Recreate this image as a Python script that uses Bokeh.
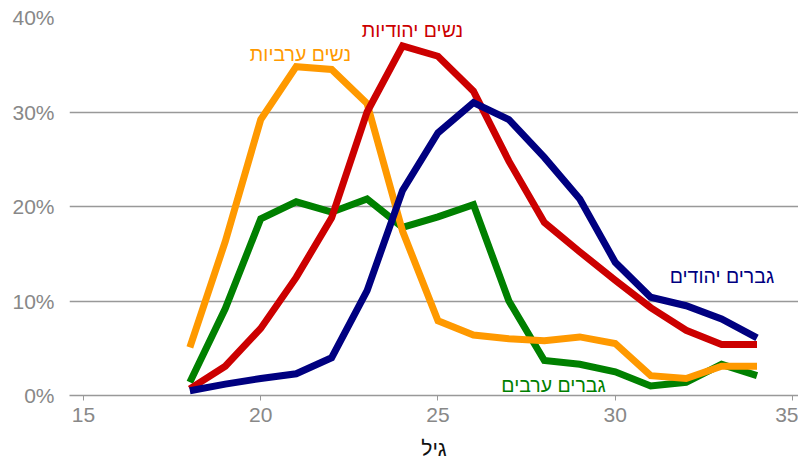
from bokeh.plotting import figure
from bokeh.models import Range1d, Label, FixedTicker, CustomJSTickFormatter
from bokeh.embed import file_html
from bokeh.resources import INLINE

ages = list(range(18, 35))
jewish_men = [0.5, 1.2, 1.8, 2.3, 4.0, 11.1, 21.7, 27.8, 31.0, 29.2, 25.2, 20.8, 14.1, 10.4, 9.5, 8.1, 6.1]
jewish_women = [0.7, 3.1, 7.1, 12.5, 18.8, 30.0, 37.0, 35.9, 32.2, 24.8, 18.3, 15.2, 12.2, 9.3, 6.9, 5.4, 5.4]
arab_women = [5.1, 16.3, 29.2, 34.8, 34.5, 30.9, 17.4, 7.9, 6.4, 6.0, 5.8, 6.2, 5.5, 2.1, 1.8, 3.1, 3.1]
arab_men = [1.4, 9.2, 18.7, 20.5, 19.4, 20.8, 17.8, 18.9, 20.2, 10.0, 3.7, 3.3, 2.5, 1.0, 1.4, 3.3, 2.1]

series_names = ["גברים יהודים", "נשים יהודיות", "נשים ערביות", "גברים ערבים"]
x_ticks = [15, 20, 25, 30, 35]
y_ticks = [0, 10, 20, 30, 40]
x_title = "גיל"

colors = ["#000080", "#cc0000", "#ff9900", "#008000"]
FONT = "Liberation Sans"

p = figure(width=798, height=462, output_backend="svg", toolbar_location=None,
           x_range=Range1d(14.605, 35.17), y_range=Range1d(0, 40),
           min_border_left=69, min_border_right=0, min_border_top=17, min_border_bottom=67)
p.outline_line_color = None
p.background_fill_color = "white"

order = [(arab_men, colors[3]), (arab_women, colors[2]), (jewish_women, colors[1]), (jewish_men, colors[0])]
for ys, c in order:
    p.line(ages, ys, line_color=c, line_width=7, line_join="miter")

p.xaxis.ticker = FixedTicker(ticks=x_ticks)
p.yaxis.ticker = FixedTicker(ticks=y_ticks)
p.yaxis.formatter = CustomJSTickFormatter(code="return tick + '%';")

for ax in [p.xaxis[0], p.yaxis[0]]:
    ax.major_label_text_font = FONT
    ax.major_label_text_font_size = "21px"
    ax.major_label_text_color = "#888888"
    ax.minor_tick_line_color = None
    ax.major_tick_in = 0

p.yaxis.axis_line_color = None
p.yaxis.major_tick_line_color = None
p.yaxis.major_tick_out = 0
p.yaxis.major_label_standoff = 15

p.xaxis.axis_line_color = "#999999"
p.xaxis.axis_line_width = 1.3
p.xaxis.major_tick_line_color = "#999999"
p.xaxis.major_tick_out = 5
p.xaxis.major_label_standoff = 7
p.xaxis.axis_label = x_title
p.xaxis.axis_label_text_font = FONT
p.xaxis.axis_label_text_font_size = "21px"
p.xaxis.axis_label_text_font_style = "normal"
p.xaxis.axis_label_text_color = "#111111"
p.xaxis.axis_label_standoff = 12

p.xgrid.grid_line_color = None
p.ygrid.grid_line_color = "#999999"
p.ygrid.grid_line_width = 1.3

label_pos = [(33.01, 12.6), (24.28, 38.7), (21.12, 36.1), (28.26, 1.1)]
for name, c, (lx, ly) in zip(series_names, colors, label_pos):
    p.add_layout(Label(x=lx, y=ly, text=name, text_color=c, text_font=FONT,
                       text_font_size="19.5px", text_align="center", text_baseline="middle"))

open("out.html", "w").write(file_html(p, INLINE))
